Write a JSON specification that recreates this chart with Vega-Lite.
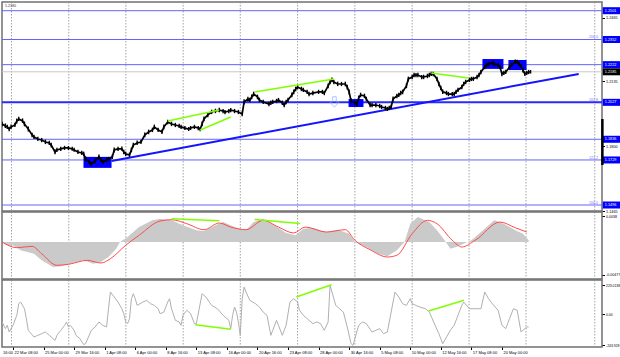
{
"$schema":"https://vega.github.io/schema/vega-lite/v6.json",
"padding":0,
"background":"#ffffff",
"spacing":1,
"bounds":"flush",
"config":{"view":{"stroke":"#707070","strokeWidth":1.5},"font":"Liberation Sans","axis":{"labelFont":"Liberation Sans","labelColor":"#000000","domain":false,"grid":false,"tickColor":"#000000","tickSize":2.5,"labelPadding":1,"title":null,"labelOverlap":false,"labelFlush":false,"labelBound":false}},
"datasets":{
"grid":[{"i":-0.8},{"i":29.2},{"i":59.1},{"i":89.1},{"i":119},{"i":149},{"i":179},{"i":209},{"i":238.8},{"i":268.6},{"i":304.6}],
"levels":[{"p":1.2501,"lab":"1.2501","kind":"lvl"},{"p":1.2352,"lab":"1.2352","kind":"lvl","fib":"200.0"},{"p":1.2222,"lab":"1.2222","kind":"lvl"},{"p":1.2185,"lab":"1.2185","kind":"now"},{"p":1.2027,"lab":"1.2027","kind":"key","fib":"161.8"},{"p":1.1836,"lab":"1.1836","kind":"lvl"},{"p":1.1729,"lab":"1.1729","kind":"lvl","fib":"127.2"},{"p":1.1496,"lab":"1.1496","kind":"lvl","fib":"100.0"}],
"trend":[{"i":51.6,"p":1.1724},{"i":296.2,"p":1.2174}],
"boxes":[{"i":36.9,"i2":51.6,"p":1.1745,"p2":1.1688},{"i":175.7,"i2":183.5,"p":1.2044,"p2":1.2003},{"i":245.8,"i2":256.8,"p":1.2251,"p2":1.2200},{"i":259.4,"i2":268.9,"p":1.2246,"p2":1.2194}],
"pgreen":[{"g":"a","i":81,"p":1.1931},{"g":"a","i":108,"p":1.1987},{"g":"b","i":98,"p":1.1884},{"g":"b","i":114,"p":1.1951},{"g":"c","i":126.5,"p":1.2081},{"g":"c","i":168,"p":1.2148},{"g":"d","i":219,"p":1.2179},{"g":"d","i":238.5,"p":1.2153}],
"bars":[
{"i":-5.7,"c":1.1915,"h":1.1927,"l":1.1902},{"i":-4,"c":1.1905,"h":1.1918,"l":1.1894},{"i":-3,"c":1.1900,"h":1.1911,"l":1.1889},{"i":-2,"c":1.1889,"h":1.1901,"l":1.1878},{"i":-1,"c":1.1900,"h":1.1912,"l":1.1890},{"i":1,"c":1.1910,"h":1.1922,"l":1.1899},{"i":2,"c":1.1931,"h":1.1943,"l":1.1918},{"i":3,"c":1.1941,"h":1.1953,"l":1.1930},{"i":5,"c":1.1931,"h":1.1944,"l":1.1921},{"i":6,"c":1.1915,"h":1.1928,"l":1.1903},{"i":8,"c":1.1889,"h":1.1902,"l":1.1876},{"i":10,"c":1.1858,"h":1.1870,"l":1.1847},{"i":11,"c":1.1848,"h":1.1860,"l":1.1838},{"i":13,"c":1.1837,"h":1.1849,"l":1.1827},{"i":15,"c":1.1832,"h":1.1843,"l":1.1821},{"i":17,"c":1.1822,"h":1.1834,"l":1.1811},{"i":19,"c":1.1817,"h":1.1828,"l":1.1806},{"i":20,"c":1.1806,"h":1.1818,"l":1.1794},{"i":22,"c":1.1770,"h":1.1784,"l":1.1759},{"i":23,"c":1.1781,"h":1.1792,"l":1.1770},{"i":25,"c":1.1786,"h":1.1797,"l":1.1775},{"i":27,"c":1.1791,"h":1.1802,"l":1.1781},{"i":29,"c":1.1791,"h":1.1801,"l":1.1780},{"i":31,"c":1.1786,"h":1.1797,"l":1.1776},{"i":32,"c":1.1781,"h":1.1792,"l":1.1771},{"i":34,"c":1.1770,"h":1.1782,"l":1.1760},{"i":36,"c":1.1765,"h":1.1776,"l":1.1754},{"i":37,"c":1.1760,"h":1.1772,"l":1.1748},{"i":38,"c":1.1734,"h":1.1748,"l":1.1722},{"i":40,"c":1.1719,"h":1.1731,"l":1.1707},{"i":41,"c":1.1708,"h":1.1720,"l":1.1697},{"i":43,"c":1.1724,"h":1.1736,"l":1.1712},{"i":45,"c":1.1745,"h":1.1757,"l":1.1733},{"i":46,"c":1.1729,"h":1.1741,"l":1.1718},{"i":47,"c":1.1719,"h":1.1731,"l":1.1708},{"i":49,"c":1.1729,"h":1.1741,"l":1.1717},{"i":50,"c":1.1734,"h":1.1745,"l":1.1723},{"i":52,"c":1.1745,"h":1.1757,"l":1.1734},{"i":53,"c":1.1781,"h":1.1793,"l":1.1768},{"i":55,"c":1.1786,"h":1.1797,"l":1.1775},{"i":57,"c":1.1786,"h":1.1798,"l":1.1776},{"i":58,"c":1.1770,"h":1.1782,"l":1.1759},{"i":59,"c":1.1760,"h":1.1772,"l":1.1749},{"i":61,"c":1.1755,"h":1.1767,"l":1.1744},{"i":62,"c":1.1781,"h":1.1793,"l":1.1769},{"i":63,"c":1.1806,"h":1.1818,"l":1.1794},{"i":65,"c":1.1817,"h":1.1829,"l":1.1806},{"i":67,"c":1.1822,"h":1.1834,"l":1.1811},{"i":69,"c":1.1858,"h":1.1871,"l":1.1846},{"i":71,"c":1.1874,"h":1.1886,"l":1.1862},{"i":73,"c":1.1884,"h":1.1896,"l":1.1873},{"i":74,"c":1.1900,"h":1.1912,"l":1.1888},{"i":76,"c":1.1884,"h":1.1896,"l":1.1873},{"i":78,"c":1.1874,"h":1.1886,"l":1.1863},{"i":79,"c":1.1900,"h":1.1912,"l":1.1888},{"i":81,"c":1.1925,"h":1.1937,"l":1.1913},{"i":83,"c":1.1915,"h":1.1927,"l":1.1904},{"i":85,"c":1.1910,"h":1.1921,"l":1.1899},{"i":87,"c":1.1905,"h":1.1916,"l":1.1894},{"i":88,"c":1.1900,"h":1.1911,"l":1.1889},{"i":90,"c":1.1894,"h":1.1905,"l":1.1884},{"i":92,"c":1.1889,"h":1.1900,"l":1.1879},{"i":93,"c":1.1894,"h":1.1905,"l":1.1884},{"i":95,"c":1.1900,"h":1.1911,"l":1.1889},{"i":97,"c":1.1894,"h":1.1905,"l":1.1883},{"i":98,"c":1.1889,"h":1.1900,"l":1.1878},{"i":99,"c":1.1915,"h":1.1928,"l":1.1903},{"i":100,"c":1.1941,"h":1.1954,"l":1.1929},{"i":102,"c":1.1962,"h":1.1974,"l":1.1950},{"i":104,"c":1.1977,"h":1.1989,"l":1.1966},{"i":106,"c":1.1982,"h":1.1994,"l":1.1971},{"i":108,"c":1.1987,"h":1.1999,"l":1.1976},{"i":110,"c":1.1982,"h":1.1993,"l":1.1971},{"i":111,"c":1.1977,"h":1.1988,"l":1.1966},{"i":113,"c":1.1982,"h":1.1993,"l":1.1971},{"i":114,"c":1.1987,"h":1.1998,"l":1.1976},{"i":116,"c":1.1982,"h":1.1993,"l":1.1971},{"i":118,"c":1.1977,"h":1.1988,"l":1.1966},{"i":120,"c":1.1967,"h":1.1979,"l":1.1955},{"i":121,"c":1.2029,"h":1.2043,"l":1.2016},{"i":123,"c":1.2044,"h":1.2056,"l":1.2032},{"i":124,"c":1.2039,"h":1.2051,"l":1.2028},{"i":125,"c":1.2055,"h":1.2067,"l":1.2043},{"i":126,"c":1.2070,"h":1.2082,"l":1.2058},{"i":128,"c":1.2055,"h":1.2067,"l":1.2043},{"i":129,"c":1.2039,"h":1.2051,"l":1.2028},{"i":131,"c":1.2029,"h":1.2041,"l":1.2018},{"i":134,"c":1.2018,"h":1.2030,"l":1.2007},{"i":135,"c":1.2024,"h":1.2036,"l":1.2013},{"i":136,"c":1.2029,"h":1.2040,"l":1.2018},{"i":138,"c":1.2034,"h":1.2045,"l":1.2023},{"i":139,"c":1.2039,"h":1.2050,"l":1.2028},{"i":141,"c":1.2024,"h":1.2036,"l":1.2013},{"i":142,"c":1.2013,"h":1.2025,"l":1.2002},{"i":143,"c":1.2029,"h":1.2041,"l":1.2017},{"i":144,"c":1.2039,"h":1.2051,"l":1.2027},{"i":146,"c":1.2065,"h":1.2078,"l":1.2053},{"i":147,"c":1.2081,"h":1.2093,"l":1.2069},{"i":148,"c":1.2096,"h":1.2108,"l":1.2084},{"i":149,"c":1.2106,"h":1.2118,"l":1.2095},{"i":151,"c":1.2096,"h":1.2108,"l":1.2085},{"i":152,"c":1.2091,"h":1.2102,"l":1.2080},{"i":154,"c":1.2081,"h":1.2092,"l":1.2070},{"i":155,"c":1.2070,"h":1.2082,"l":1.2059},{"i":157,"c":1.2075,"h":1.2087,"l":1.2064},{"i":160,"c":1.2081,"h":1.2092,"l":1.2070},{"i":162,"c":1.2081,"h":1.2092,"l":1.2070},{"i":163,"c":1.2075,"h":1.2087,"l":1.2064},{"i":165,"c":1.2112,"h":1.2125,"l":1.2100},{"i":166,"c":1.2132,"h":1.2144,"l":1.2120},{"i":167,"c":1.2143,"h":1.2155,"l":1.2131},{"i":168,"c":1.2132,"h":1.2144,"l":1.2121},{"i":170,"c":1.2122,"h":1.2134,"l":1.2111},{"i":172,"c":1.2122,"h":1.2133,"l":1.2111},{"i":174,"c":1.2122,"h":1.2134,"l":1.2110},{"i":175,"c":1.2106,"h":1.2118,"l":1.2094},{"i":176,"c":1.2081,"h":1.2094,"l":1.2068},{"i":177,"c":1.2034,"h":1.2048,"l":1.2022},{"i":179,"c":1.2024,"h":1.2036,"l":1.2013},{"i":180,"c":1.2018,"h":1.2030,"l":1.2007},{"i":181,"c":1.2050,"h":1.2062,"l":1.2038},{"i":182,"c":1.2065,"h":1.2077,"l":1.2053},{"i":184,"c":1.2060,"h":1.2072,"l":1.2049},{"i":185,"c":1.2044,"h":1.2056,"l":1.2033},{"i":187,"c":1.2013,"h":1.2025,"l":1.2001},{"i":188,"c":1.2013,"h":1.2024,"l":1.2002},{"i":190,"c":1.2013,"h":1.2024,"l":1.2002},{"i":192,"c":1.2008,"h":1.2019,"l":1.1997},{"i":193,"c":1.2003,"h":1.2014,"l":1.1992},{"i":195,"c":1.1998,"h":1.2009,"l":1.1987},{"i":196,"c":1.1993,"h":1.2004,"l":1.1982},{"i":197,"c":1.1998,"h":1.2009,"l":1.1987},{"i":198,"c":1.2003,"h":1.2015,"l":1.1992},{"i":199,"c":1.2044,"h":1.2057,"l":1.2032},{"i":201,"c":1.2060,"h":1.2072,"l":1.2048},{"i":202,"c":1.2065,"h":1.2077,"l":1.2054},{"i":203,"c":1.2075,"h":1.2087,"l":1.2064},{"i":204,"c":1.2081,"h":1.2093,"l":1.2069},{"i":206,"c":1.2112,"h":1.2125,"l":1.2100},{"i":207,"c":1.2148,"h":1.2160,"l":1.2135},{"i":209,"c":1.2158,"h":1.2170,"l":1.2146},{"i":210,"c":1.2168,"h":1.2180,"l":1.2157},{"i":211,"c":1.2168,"h":1.2179,"l":1.2157},{"i":212,"c":1.2168,"h":1.2180,"l":1.2157},{"i":214,"c":1.2158,"h":1.2169,"l":1.2147},{"i":215,"c":1.2158,"h":1.2170,"l":1.2147},{"i":217,"c":1.2163,"h":1.2175,"l":1.2152},{"i":218,"c":1.2168,"h":1.2180,"l":1.2157},{"i":219,"c":1.2174,"h":1.2185,"l":1.2163},{"i":220,"c":1.2174,"h":1.2185,"l":1.2162},{"i":222,"c":1.2148,"h":1.2160,"l":1.2136},{"i":223,"c":1.2122,"h":1.2134,"l":1.2110},{"i":224,"c":1.2101,"h":1.2113,"l":1.2089},{"i":225,"c":1.2081,"h":1.2093,"l":1.2070},{"i":227,"c":1.2075,"h":1.2087,"l":1.2064},{"i":228,"c":1.2070,"h":1.2081,"l":1.2059},{"i":230,"c":1.2070,"h":1.2081,"l":1.2059},{"i":231,"c":1.2070,"h":1.2082,"l":1.2059},{"i":232,"c":1.2081,"h":1.2092,"l":1.2070},{"i":233,"c":1.2091,"h":1.2102,"l":1.2080},{"i":235,"c":1.2106,"h":1.2118,"l":1.2095},{"i":236,"c":1.2122,"h":1.2134,"l":1.2111},{"i":237,"c":1.2132,"h":1.2144,"l":1.2121},{"i":239,"c":1.2143,"h":1.2154,"l":1.2132},{"i":240,"c":1.2148,"h":1.2159,"l":1.2137},{"i":241,"c":1.2148,"h":1.2160,"l":1.2137},{"i":243,"c":1.2158,"h":1.2170,"l":1.2147},{"i":244,"c":1.2168,"h":1.2180,"l":1.2157},{"i":245,"c":1.2184,"h":1.2196,"l":1.2172},{"i":247,"c":1.2210,"h":1.2222,"l":1.2198},{"i":248,"c":1.2220,"h":1.2232,"l":1.2208},{"i":249,"c":1.2225,"h":1.2237,"l":1.2214},{"i":251,"c":1.2231,"h":1.2242,"l":1.2220},{"i":252,"c":1.2225,"h":1.2237,"l":1.2214},{"i":254,"c":1.2220,"h":1.2232,"l":1.2209},{"i":255,"c":1.2210,"h":1.2222,"l":1.2198},{"i":256,"c":1.2174,"h":1.2187,"l":1.2162},{"i":257,"c":1.2179,"h":1.2191,"l":1.2168},{"i":258,"c":1.2184,"h":1.2196,"l":1.2173},{"i":260,"c":1.2210,"h":1.2222,"l":1.2198},{"i":261,"c":1.2220,"h":1.2232,"l":1.2209},{"i":263,"c":1.2236,"h":1.2248,"l":1.2225},{"i":264,"c":1.2236,"h":1.2247,"l":1.2225},{"i":265,"c":1.2225,"h":1.2237,"l":1.2214},{"i":266,"c":1.2215,"h":1.2227,"l":1.2204},{"i":267,"c":1.2194,"h":1.2206,"l":1.2182},{"i":268,"c":1.2174,"h":1.2186,"l":1.2163},{"i":269,"c":1.2179,"h":1.2190,"l":1.2168},{"i":270,"c":1.2184,"h":1.2195,"l":1.2173},{"i":271,"c":1.2184,"h":1.2194,"l":1.2176}],
"macd":[{"i":-5.7,"m":0},{"i":-4,"m":-0.00034},{"i":-2,"m":-0.00063},{"i":0,"m":-0.00048},{"i":4,"m":-0.00121},{"i":11,"m":-0.00171},{"i":15,"m":-0.00268},{"i":21,"m":-0.00366},{"i":25,"m":-0.00355},{"i":31,"m":-0.00307},{"i":37,"m":-0.00268},{"i":42,"m":-0.00317},{"i":46,"m":-0.00292},{"i":50,"m":-0.00219},{"i":54,"m":-0.00098},{"i":56,"m":0},{"i":60,"m":0.00073},{"i":66,"m":0.00219},{"i":73,"m":0.00317},{"i":77,"m":0.00341},{"i":83,"m":0.00317},{"i":89,"m":0.00244},{"i":96,"m":0.00171},{"i":100,"m":0.00161},{"i":106,"m":0.00244},{"i":110,"m":0.00292},{"i":116,"m":0.00219},{"i":122,"m":0.00171},{"i":126,"m":0.00292},{"i":131,"m":0.00341},{"i":137,"m":0.00244},{"i":143,"m":0.00132},{"i":148,"m":0.00098},{"i":152,"m":0.00194},{"i":157,"m":0.00209},{"i":164,"m":0.00146},{"i":170,"m":0.0018},{"i":176,"m":0.00121},{"i":179,"m":0},{"i":185,"m":-0.00073},{"i":191,"m":-0.00171},{"i":196,"m":-0.00209},{"i":201,"m":-0.00121},{"i":205,"m":0},{"i":208,"m":0.00268},{"i":212,"m":0.00366},{"i":218,"m":0.00292},{"i":222,"m":0.00171},{"i":226,"m":0.00025},{"i":229,"m":-0.00098},{"i":232,"m":-0.00073},{"i":236,"m":-0.00025},{"i":240,"m":0.00025},{"i":244,"m":0.00121},{"i":252,"m":0.00317},{"i":257,"m":0.00268},{"i":263,"m":0.00171},{"i":267,"m":0.00121},{"i":270,"m":0.00025}],
"sig":[{"i":-5.7,"s":0},{"i":2,"s":-0.00083},{"i":10,"s":-0.00063},{"i":15,"s":-0.00171},{"i":23,"s":-0.00341},{"i":29,"s":-0.00326},{"i":39,"s":-0.00268},{"i":46,"s":-0.00307},{"i":51,"s":-0.00244},{"i":59,"s":-0.00048},{"i":66,"s":0.00098},{"i":77,"s":0.00307},{"i":83,"s":0.00326},{"i":91,"s":0.00268},{"i":100,"s":0.0018},{"i":108,"s":0.00278},{"i":114,"s":0.00219},{"i":122,"s":0.0018},{"i":131,"s":0.00317},{"i":139,"s":0.00219},{"i":147,"s":0.00132},{"i":153,"s":0.00219},{"i":164,"s":0.00146},{"i":174,"s":0.0018},{"i":179,"s":0.00025},{"i":187,"s":-0.00113},{"i":196,"s":-0.00219},{"i":201,"s":-0.00194},{"i":209,"s":0.00121},{"i":217,"s":0.00317},{"i":222,"s":0.00268},{"i":230,"s":0.00025},{"i":235,"s":-0.00073},{"i":242,"s":0.00025},{"i":255,"s":0.00292},{"i":263,"s":0.00209},{"i":269,"s":0.00146}],
"mgreen":[{"g":"a","i":83,"m":0.0034},{"g":"a","i":108,"m":0.0031},{"g":"b","i":126.5,"m":0.0033},{"g":"b","i":150.3,"m":0.0027}],
"cci":[{"i":-5.7,"v":-62},{"i":-4,"v":-114},{"i":-3,"v":-88},{"i":-2,"v":-140},{"i":0,"v":-88},{"i":2,"v":-10},{"i":3,"v":80},{"i":4,"v":93},{"i":6,"v":41},{"i":7,"v":-36},{"i":8,"v":-127},{"i":11,"v":-179},{"i":13,"v":-166},{"i":15,"v":-153},{"i":17,"v":-140},{"i":19,"v":-166},{"i":21,"v":-192},{"i":22,"v":-205},{"i":23,"v":-166},{"i":25,"v":-127},{"i":27,"v":-88},{"i":28,"v":-62},{"i":29,"v":-101},{"i":30,"v":-88},{"i":32,"v":-127},{"i":33,"v":-166},{"i":35,"v":-192},{"i":37,"v":-238},{"i":38,"v":-231},{"i":41,"v":-127},{"i":43,"v":-101},{"i":45,"v":-62},{"i":47,"v":-88},{"i":49,"v":-101},{"i":50,"v":41},{"i":51,"v":171},{"i":53,"v":132},{"i":55,"v":93},{"i":57,"v":41},{"i":58,"v":2},{"i":59,"v":-62},{"i":60,"v":-75},{"i":61,"v":-36},{"i":62,"v":119},{"i":63,"v":158},{"i":64,"v":119},{"i":65,"v":67},{"i":68,"v":93},{"i":70,"v":106},{"i":72,"v":80},{"i":74,"v":67},{"i":76,"v":41},{"i":77,"v":2},{"i":79,"v":15},{"i":81,"v":93},{"i":82,"v":119},{"i":83,"v":41},{"i":85,"v":-49},{"i":87,"v":-62},{"i":88,"v":-88},{"i":89,"v":-10},{"i":91,"v":29},{"i":93,"v":2},{"i":95,"v":-75},{"i":96,"v":-75},{"i":99,"v":158},{"i":101,"v":132},{"i":104,"v":67},{"i":107,"v":41},{"i":110,"v":-10},{"i":113,"v":-49},{"i":114,"v":-114},{"i":115,"v":-10},{"i":116,"v":54},{"i":117,"v":15},{"i":118,"v":-62},{"i":119,"v":-166},{"i":120,"v":119},{"i":121,"v":210},{"i":122,"v":171},{"i":124,"v":106},{"i":127,"v":80},{"i":129,"v":54},{"i":131,"v":15},{"i":133,"v":-10},{"i":135,"v":-166},{"i":136,"v":-127},{"i":138,"v":-49},{"i":139,"v":-88},{"i":141,"v":-166},{"i":142,"v":-127},{"i":143,"v":-88},{"i":145,"v":93},{"i":147,"v":119},{"i":149,"v":93},{"i":150,"v":29},{"i":152,"v":-10},{"i":154,"v":-36},{"i":157,"v":-75},{"i":159,"v":-62},{"i":161,"v":-75},{"i":163,"v":-127},{"i":165,"v":-62},{"i":166,"v":223},{"i":167,"v":171},{"i":169,"v":67},{"i":171,"v":41},{"i":173,"v":15},{"i":175,"v":-101},{"i":177,"v":-231},{"i":178,"v":-244},{"i":179,"v":-192},{"i":180,"v":-140},{"i":181,"v":-88},{"i":183,"v":-62},{"i":185,"v":-75},{"i":188,"v":-140},{"i":190,"v":-127},{"i":192,"v":-114},{"i":194,"v":-153},{"i":196,"v":-140},{"i":198,"v":15},{"i":200,"v":171},{"i":202,"v":132},{"i":204,"v":80},{"i":206,"v":67},{"i":208,"v":119},{"i":209,"v":80},{"i":211,"v":67},{"i":213,"v":54},{"i":216,"v":41},{"i":218,"v":15},{"i":221,"v":-88},{"i":223,"v":-153},{"i":225,"v":-231},{"i":227,"v":-179},{"i":229,"v":-127},{"i":231,"v":-88},{"i":233,"v":-10},{"i":235,"v":67},{"i":236,"v":93},{"i":239,"v":41},{"i":242,"v":41},{"i":245,"v":41},{"i":247,"v":171},{"i":249,"v":119},{"i":251,"v":80},{"i":254,"v":29},{"i":256,"v":-88},{"i":258,"v":-114},{"i":260,"v":-36},{"i":262,"v":41},{"i":264,"v":29},{"i":266,"v":-140},{"i":267,"v":-127},{"i":269,"v":-101},{"i":270,"v":-101}],
"cgreen":[{"g":"a","i":95.4,"v":-83},{"g":"a","i":114.1,"v":-119},{"g":"b","i":148.3,"v":132},{"g":"b","i":166.8,"v":228},{"g":"c","i":217.6,"v":23},{"g":"c","i":236.2,"v":107}]
},
"vconcat":[
{"width":600,"height":209,"layer":[
 {"data":{"name":"grid"},"mark":{"type":"rule","stroke":"#8a8a8a","strokeDash":[1.5,1.5],"strokeWidth":0.8},"encoding":{"x":{"field":"i","type":"quantitative","scale":{"domain":[-5.76,308.4],"nice":false,"zero":false},"axis":null}}},
 {"data":{"name":"levels"},"transform":[{"filter":"datum.kind=='lvl'"}],"mark":{"type":"rule","stroke":"#6464ff","strokeWidth":1},"encoding":{"y":{"field":"p","type":"quantitative","scale":{"domain":[1.1465,1.2546],"nice":false,"zero":false}}}},
 {"data":{"name":"levels"},"transform":[{"filter":"datum.kind=='key'"}],"mark":{"type":"rule","stroke":"#2a2aff","strokeWidth":2},"encoding":{"y":{"field":"p","type":"quantitative","scale":{"domain":[1.1465,1.2546],"nice":false,"zero":false}}}},
 {"data":{"name":"levels"},"transform":[{"filter":"datum.kind=='now'"}],"mark":{"type":"rule","stroke":"#c8c8c8","strokeWidth":1},"encoding":{"y":{"field":"p","type":"quantitative","scale":{"domain":[1.1465,1.2546],"nice":false,"zero":false}}}},
 {"data":{"name":"trend"},"mark":{"type":"line","stroke":"#1414ff","strokeWidth":2},"encoding":{"x":{"field":"i","type":"quantitative","scale":{"domain":[-5.76,308.4],"nice":false,"zero":false},"axis":null},"y":{"field":"p","type":"quantitative","scale":{"domain":[1.1465,1.2546],"nice":false,"zero":false}}}},
 {"data":{"name":"boxes"},"mark":{"type":"rect","fill":"#0000ff"},"encoding":{"x":{"field":"i","type":"quantitative","scale":{"domain":[-5.76,308.4],"nice":false,"zero":false},"axis":null},"x2":{"field":"i2"},"y":{"field":"p","type":"quantitative","scale":{"domain":[1.1465,1.2546],"nice":false,"zero":false}},"y2":{"field":"p2"}}},
 {"data":{"name":"bars"},"mark":{"type":"rule","stroke":"#000000","strokeWidth":1.4,"clip":true},"encoding":{"x":{"field":"i","type":"quantitative","scale":{"domain":[-5.76,308.4],"nice":false,"zero":false},"axis":null},"y":{"field":"h","type":"quantitative","scale":{"domain":[1.1465,1.2546],"nice":false,"zero":false}},"y2":{"field":"l"}}},
 {"data":{"name":"bars"},"mark":{"type":"line","stroke":"#000000","strokeWidth":1.7,"clip":true},"encoding":{"x":{"field":"i","type":"quantitative","scale":{"domain":[-5.76,308.4],"nice":false,"zero":false},"axis":null},"y":{"field":"c","type":"quantitative","scale":{"domain":[1.1465,1.2546],"nice":false,"zero":false},"axis":{"orient":"right","title":null,"values":[1.2465,1.2385,1.23,1.2215,1.2135,1.205,1.1965,1.188,1.18,1.1715,1.1635,1.155,1.1465],"format":".4f","labelFontSize":3.8,"labelOverlap":false}}}},
 {"data":{"name":"pgreen"},"mark":{"type":"line","stroke":"#80ff00","strokeWidth":1.5},"encoding":{"x":{"field":"i","type":"quantitative","scale":{"domain":[-5.76,308.4],"nice":false,"zero":false},"axis":null},"y":{"field":"p","type":"quantitative","scale":{"domain":[1.1465,1.2546],"nice":false,"zero":false}},"detail":{"field":"g"}}},
 {"data":{"values":[{"i":168.3,"p":1.2029}]},"mark":{"type":"point","shape":"M-0.35,-1L0.35,-1L0.35,0L0.9,0L0,1L-0.9,0L-0.35,0Z","size":110,"filled":false,"color":"#7aa8ff","strokeWidth":0.9},"encoding":{"x":{"field":"i","type":"quantitative","scale":{"domain":[-5.76,308.4],"nice":false,"zero":false},"axis":null},"y":{"field":"p","type":"quantitative","scale":{"domain":[1.1465,1.2546],"nice":false,"zero":false}}}},
 {"data":{"name":"levels"},"transform":[{"filter":"datum.fib"}],"mark":{"type":"text","align":"right","baseline":"bottom","dx":-4,"dy":-0.3,"fontSize":3.6,"fill":"#7070ff"},"encoding":{"x":{"datum":308.4,"type":"quantitative","scale":{"domain":[-5.76,308.4],"nice":false,"zero":false},"axis":null},"y":{"field":"p","type":"quantitative","scale":{"domain":[1.1465,1.2546],"nice":false,"zero":false}},"text":{"field":"fib"}}},
 {"data":{"name":"levels"},"transform":[{"filter":"datum.kind!='now'"}],"mark":{"type":"point","shape":"M-1,-0.35L1,-0.35L1,0.35L-1,0.35Z","size":400,"filled":true,"color":"#0000ff","opacity":1},"encoding":{"x":{"datum":314,"type":"quantitative","scale":{"domain":[-5.76,308.4],"nice":false,"zero":false},"axis":null},"y":{"field":"p","type":"quantitative","scale":{"domain":[1.1465,1.2546],"nice":false,"zero":false}}}},
 {"data":{"name":"levels"},"transform":[{"filter":"datum.kind=='now'"}],"mark":{"type":"point","shape":"M-1,-0.35L1,-0.35L1,0.35L-1,0.35Z","size":400,"filled":true,"color":"#000000","opacity":1},"encoding":{"x":{"datum":314,"type":"quantitative","scale":{"domain":[-5.76,308.4],"nice":false,"zero":false},"axis":null},"y":{"field":"p","type":"quantitative","scale":{"domain":[1.1465,1.2546],"nice":false,"zero":false}}}},
 {"data":{"name":"levels"},"mark":{"type":"text","align":"left","baseline":"middle","dx":1.5,"fontSize":3.8,"fill":"#ffffff"},"encoding":{"x":{"datum":309.1,"type":"quantitative","scale":{"domain":[-5.76,308.4],"nice":false,"zero":false},"axis":null},"y":{"field":"p","type":"quantitative","scale":{"domain":[1.1465,1.2546],"nice":false,"zero":false}},"text":{"field":"lab"}}},
 {"data":{"values":[{"p":1.1941,"p2":1.1703}]},"mark":{"type":"rule","stroke":"#000000","strokeWidth":2.5},"encoding":{"x":{"datum":308.6,"type":"quantitative","scale":{"domain":[-5.76,308.4],"nice":false,"zero":false},"axis":null},"y":{"field":"p","type":"quantitative","scale":{"domain":[1.1465,1.2546],"nice":false,"zero":false}},"y2":{"field":"p2"}}},
 {"data":{"values":[{"t":"1.2180","p":1.2526}]},"mark":{"type":"text","align":"left","baseline":"middle","dx":3,"fontSize":3.6,"fill":"#333333"},"encoding":{"x":{"datum":-5.76,"type":"quantitative","scale":{"domain":[-5.76,308.4],"nice":false,"zero":false},"axis":null},"y":{"field":"p","type":"quantitative","scale":{"domain":[1.1465,1.2546],"nice":false,"zero":false}},"text":{"field":"t"}}}
]},
{"width":600,"height":67,"layer":[
 {"data":{"name":"grid"},"mark":{"type":"rule","stroke":"#8a8a8a","strokeDash":[1.5,1.5],"strokeWidth":0.8},"encoding":{"x":{"field":"i","type":"quantitative","scale":{"domain":[-5.76,308.4],"nice":false,"zero":false},"axis":null}}},
 {"data":{"name":"macd"},"mark":{"type":"area","color":"#cacaca","clip":true},"encoding":{"x":{"field":"i","type":"quantitative","scale":{"domain":[-5.76,308.4],"nice":false,"zero":false},"axis":null},"y":{"field":"m","type":"quantitative","scale":{"domain":[-0.00541,0.00439],"nice":false,"zero":false},"axis":{"orient":"right","title":null,"values":[0.0038,0,-0.00477],"labelExpr":"datum.value>0.001?'0.0038':(datum.value<-0.001?'-0.00477':'0.00')","labelFontSize":3.6}},"y2":{"datum":0}}},
 {"data":{"name":"sig"},"mark":{"type":"line","stroke":"#ff4a4a","strokeWidth":1,"interpolate":"monotone","clip":true},"encoding":{"x":{"field":"i","type":"quantitative","scale":{"domain":[-5.76,308.4],"nice":false,"zero":false},"axis":null},"y":{"field":"s","type":"quantitative","scale":{"domain":[-0.00541,0.00439],"nice":false,"zero":false}}}},
 {"data":{"name":"mgreen"},"mark":{"type":"line","stroke":"#80ff00","strokeWidth":1.5},"encoding":{"x":{"field":"i","type":"quantitative","scale":{"domain":[-5.76,308.4],"nice":false,"zero":false},"axis":null},"y":{"field":"m","type":"quantitative","scale":{"domain":[-0.00541,0.00439],"nice":false,"zero":false}},"detail":{"field":"g"}}}
]},
{"width":600,"height":67,"layer":[
 {"data":{"name":"grid"},"mark":{"type":"rule","stroke":"#8a8a8a","strokeDash":[1.5,1.5],"strokeWidth":0.8},"encoding":{"x":{"field":"i","type":"quantitative","scale":{"domain":[-5.76,308.4],"nice":false,"zero":false},"axis":{"orient":"bottom","title":null,"values":[0,16,32,48,64,80,96,112,128,144,160,176,192,208,224,240,256],"labelExpr":"datum.value==0?'22 Mar 08:00':datum.value==16?'25 Mar 00:00':datum.value==32?'29 Mar 16:00':datum.value==48?'1 Apr 08:00':datum.value==64?'6 Apr 00:00':datum.value==80?'8 Apr 16:00':datum.value==96?'13 Apr 08:00':datum.value==112?'16 Apr 00:00':datum.value==128?'20 Apr 16:00':datum.value==144?'23 Apr 08:00':datum.value==160?'28 Apr 00:00':datum.value==176?'30 Apr 16:00':datum.value==192?'5 May 08:00':datum.value==208?'10 May 00:00':datum.value==224?'12 May 16:00':datum.value==240?'17 May 08:00':'20 May 00:00'","labelAlign":"left","labelOffset":1,"labelFontSize":4,"labelOverlap":false,"labelFlush":false,"labelBound":false}}}},
 {"data":{"name":"cci"},"mark":{"type":"line","stroke":"#b0b0b0","strokeWidth":1,"clip":true},"encoding":{"x":{"field":"i","type":"quantitative","scale":{"domain":[-5.76,308.4],"nice":false,"zero":false},"axis":{"orient":"bottom","title":null,"values":[0,16,32,48,64,80,96,112,128,144,160,176,192,208,224,240,256],"labelExpr":"datum.value==0?'22 Mar 08:00':datum.value==16?'25 Mar 00:00':datum.value==32?'29 Mar 16:00':datum.value==48?'1 Apr 08:00':datum.value==64?'6 Apr 00:00':datum.value==80?'8 Apr 16:00':datum.value==96?'13 Apr 08:00':datum.value==112?'16 Apr 00:00':datum.value==128?'20 Apr 16:00':datum.value==144?'23 Apr 08:00':datum.value==160?'28 Apr 00:00':datum.value==176?'30 Apr 16:00':datum.value==192?'5 May 08:00':datum.value==208?'10 May 00:00':datum.value==224?'12 May 16:00':datum.value==240?'17 May 08:00':'20 May 00:00'","labelAlign":"left","labelOffset":1,"labelFontSize":4,"labelOverlap":false,"labelFlush":false,"labelBound":false}},"y":{"field":"v","type":"quantitative","scale":{"domain":[-256.8,264.6],"nice":false,"zero":false},"axis":{"orient":"right","title":null,"values":[223.0138,0,-243.928],"labelExpr":"datum.value>1?'223.0138':(datum.value<-1?'-243.928':'0.00')","labelFontSize":3.4,"labelOverlap":false}}}},
 {"data":{"name":"cgreen"},"mark":{"type":"line","stroke":"#80ff00","strokeWidth":1.5},"encoding":{"x":{"field":"i","type":"quantitative","scale":{"domain":[-5.76,308.4],"nice":false,"zero":false},"axis":{"orient":"bottom","title":null,"values":[0,16,32,48,64,80,96,112,128,144,160,176,192,208,224,240,256],"labelExpr":"datum.value==0?'22 Mar 08:00':datum.value==16?'25 Mar 00:00':datum.value==32?'29 Mar 16:00':datum.value==48?'1 Apr 08:00':datum.value==64?'6 Apr 00:00':datum.value==80?'8 Apr 16:00':datum.value==96?'13 Apr 08:00':datum.value==112?'16 Apr 00:00':datum.value==128?'20 Apr 16:00':datum.value==144?'23 Apr 08:00':datum.value==160?'28 Apr 00:00':datum.value==176?'30 Apr 16:00':datum.value==192?'5 May 08:00':datum.value==208?'10 May 00:00':datum.value==224?'12 May 16:00':datum.value==240?'17 May 08:00':'20 May 00:00'","labelAlign":"left","labelOffset":1,"labelFontSize":4,"labelOverlap":false,"labelFlush":false,"labelBound":false}},"y":{"field":"v","type":"quantitative","scale":{"domain":[-256.8,264.6],"nice":false,"zero":false},"axis":{"orient":"right","title":null,"values":[223.0138,0,-243.928],"labelExpr":"datum.value>1?'223.0138':(datum.value<-1?'-243.928':'0.00')","labelFontSize":3.4,"labelOverlap":false}},"detail":{"field":"g"}}},
 {"data":{"values":[{"t":"16:00","v":-256.8}]},"mark":{"type":"text","align":"left","baseline":"top","dx":1,"dy":3.5,"fontSize":4,"fill":"#000000"},"encoding":{"x":{"datum":-5.76,"type":"quantitative","scale":{"domain":[-5.76,308.4],"nice":false,"zero":false},"axis":{"orient":"bottom","title":null,"values":[0,16,32,48,64,80,96,112,128,144,160,176,192,208,224,240,256],"labelExpr":"datum.value==0?'22 Mar 08:00':datum.value==16?'25 Mar 00:00':datum.value==32?'29 Mar 16:00':datum.value==48?'1 Apr 08:00':datum.value==64?'6 Apr 00:00':datum.value==80?'8 Apr 16:00':datum.value==96?'13 Apr 08:00':datum.value==112?'16 Apr 00:00':datum.value==128?'20 Apr 16:00':datum.value==144?'23 Apr 08:00':datum.value==160?'28 Apr 00:00':datum.value==176?'30 Apr 16:00':datum.value==192?'5 May 08:00':datum.value==208?'10 May 00:00':datum.value==224?'12 May 16:00':datum.value==240?'17 May 08:00':'20 May 00:00'","labelAlign":"left","labelOffset":1,"labelFontSize":4,"labelOverlap":false,"labelFlush":false,"labelBound":false}},"y":{"field":"v","type":"quantitative","scale":{"domain":[-256.8,264.6],"nice":false,"zero":false},"axis":{"orient":"right","title":null,"values":[223.0138,0,-243.928],"labelExpr":"datum.value>1?'223.0138':(datum.value<-1?'-243.928':'0.00')","labelFontSize":3.4,"labelOverlap":false}},"text":{"field":"t"}}}
]}
]
}
